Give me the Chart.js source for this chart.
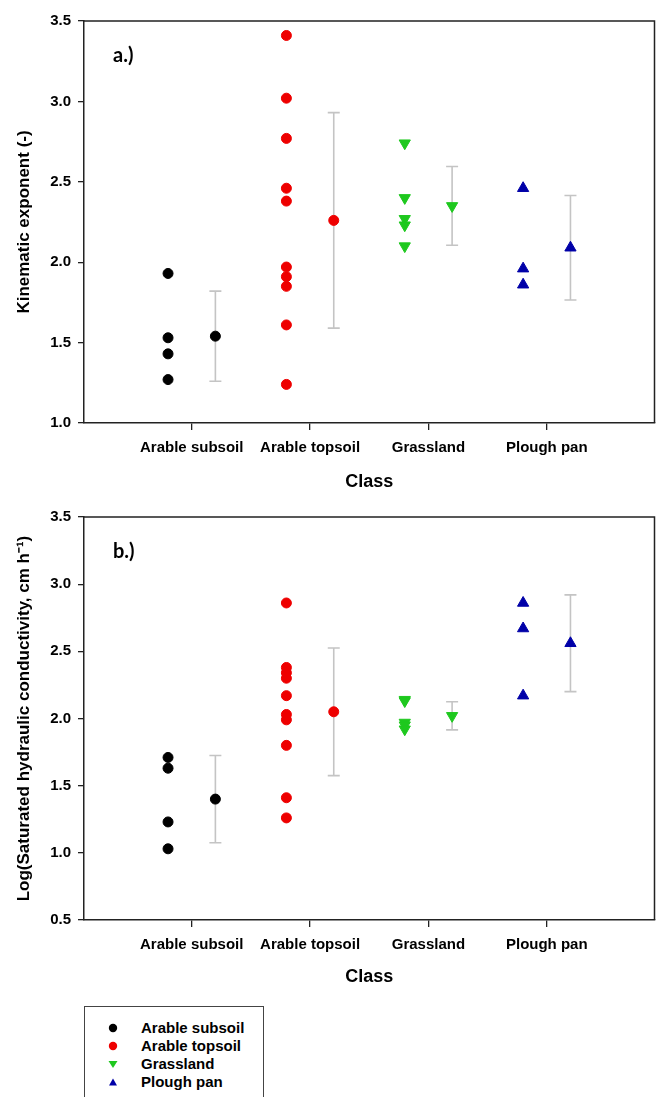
<!DOCTYPE html>
<html>
<head>
<meta charset="utf-8">
<script src="https://cdn.jsdelivr.net/npm/chart.js@4/dist/chart.umd.min.js"></script>
<style>
  html, body { margin: 0; padding: 0; background: #fff; overflow: hidden; }
  body { width: 662px; height: 1097px; position: relative; font-family: "Liberation Sans", Arial, sans-serif; }
  .panel { position: absolute; left: 0; }
  #legend { position: absolute; left: 84px; top: 1006px; width: 180px; height: 110px; border: 1px solid #444; box-sizing: border-box; }
  .row { position: absolute; left: 0; height: 18px; width: 180px; }
  .row svg { position: absolute; left: 22px; top: 3px; }
  .row span { position: absolute; left: 56px; top: 0; font: bold 15px "Liberation Sans", Arial, sans-serif; line-height: 18px; color: #000; }
</style>
</head>
<body>
<div class="panel" style="top:0"><canvas id="chartA" width="662" height="500"></canvas></div>
<div class="panel" style="top:500px"><canvas id="chartB" width="662" height="495"></canvas></div>
<div id="legend"></div>
<script>
const classes = ['Arable subsoil', 'Arable topsoil', 'Grassland', 'Plough pan'];

// a.) kinematic exponent, individual samples per class
const kinSubsoil = [1.93, 1.53, 1.43, 1.27];
const kinTopsoil = [3.41, 3.02, 2.77, 2.46, 2.38, 1.97, 1.91, 1.85, 1.61, 1.24];
const kinGrass = [2.74, 2.40, 2.27, 2.23, 2.10];
const kinPlough = [2.46, 1.96, 1.86];
const kinMean = [1.54, 2.26, 2.35, 2.09];
const kinErr = [0.28, 0.67, 0.245, 0.325];

// b.) log saturated hydraulic conductivity
const ksSubsoil = [1.71, 1.63, 1.23, 1.03];
const ksTopsoil = [2.86, 2.38, 2.34, 2.30, 2.17, 2.03, 1.99, 1.80, 1.41, 1.26];
const ksGrass = [2.14, 2.13, 1.97, 1.95, 1.92];
const ksPlough = [2.86, 2.67, 2.17];
const ksMean = [1.40, 2.05, 2.02, 2.56];
const ksErr = [0.325, 0.475, 0.105, 0.36];

const kinTicks = [1.0, 1.5, 2.0, 2.5, 3.0, 3.5];
const ksTicks = [0.5, 1.0, 1.5, 2.0, 2.5, 3.0, 3.5];

const styles = [
    { color: '#000000', pointStyle: 'circle', radius: 5, rotation: 0 },
    { color: '#ee0000', pointStyle: 'circle', radius: 5, rotation: 0 },
    { color: '#1ec81e', pointStyle: 'triangle', radius: 6.5, rotation: 180 },
    { color: '#0000a8', pointStyle: 'triangle', radius: 6.5, rotation: 0 }
];

const rawShift = -0.2;
const meanShift = 0.2;
const FONT = '"Liberation Sans", Arial, sans-serif';

const errorBars = {
    id: 'errorBars',
    beforeDatasetsDraw(chart, args, opts) {
        const { ctx, scales: { x, y } } = chart;
        ctx.save();
        ctx.strokeStyle = '#c4c4c4';
        ctx.lineWidth = 1.6;
        opts.means.forEach((m, i) => {
            const px = x.getPixelForValue(i + 1 + meanShift);
            const top = y.getPixelForValue(m + opts.errs[i]);
            const bot = y.getPixelForValue(m - opts.errs[i]);
            ctx.beginPath();
            ctx.moveTo(px, top); ctx.lineTo(px, bot);
            ctx.moveTo(px - 6, top); ctx.lineTo(px + 6, top);
            ctx.moveTo(px - 6, bot); ctx.lineTo(px + 6, bot);
            ctx.stroke();
        });
        ctx.restore();
    }
};

const frame = {
    id: 'frame',
    afterDraw(chart, args, opts) {
        const { ctx, chartArea: { top, bottom, left, right } } = chart;
        ctx.save();
        ctx.strokeStyle = '#222';
        ctx.lineWidth = 1.5;
        ctx.beginPath();
        ctx.moveTo(left, top); ctx.lineTo(right, top); ctx.lineTo(right, bottom);
        ctx.stroke();
        ctx.fillStyle = '#000';
        ctx.font = 'bold 20px Lato, "Open Sans", sans-serif';
        ctx.textBaseline = 'middle';
        ctx.fillText(opts.label, left + 29, top + 35);
        ctx.restore();
    }
};

function makeDatasets(groups, means) {
    return groups.map((vals, i) => {
        const pts = vals.map(v => ({ x: i + 1 + rawShift, y: v }));
        pts.push({ x: i + 1 + meanShift, y: means[i] });
        const s = styles[i];
        return {
            label: classes[i],
            data: pts,
            backgroundColor: s.color,
            borderColor: s.color,
            borderWidth: 1,
            pointStyle: s.pointStyle,
            pointRadius: s.radius,
            pointRotation: s.rotation
        };
    });
}

function makeChart(id, groups, means, errs, yTicks, yTitle, label, padTop, xHeight) {
    return new Chart(document.getElementById(id), {
        type: 'scatter',
        plugins: [errorBars, frame],
        data: { datasets: makeDatasets(groups, means) },
        options: {
            responsive: false,
            animation: false,
            layout: { padding: { top: padTop, right: 5, left: 0, bottom: 0 } },
            plugins: {
                legend: { display: false },
                tooltip: { enabled: false },
                errorBars: { means: means, errs: errs },
                frame: { label: label }
            },
            scales: {
                x: {
                    type: 'linear',
                    min: 0.09, max: 4.91,
                    afterBuildTicks: (axis) => { axis.ticks = [1, 2, 3, 4].map(v => ({ value: v })); },
                    afterFit: (axis) => { axis.height = xHeight; },
                    border: { display: true, color: '#222', width: 1.5 },
                    grid: { drawOnChartArea: false, drawTicks: true, tickLength: 7, color: '#222', lineWidth: 1.3 },
                    ticks: {
                        autoSkip: false, maxRotation: 0, padding: 9, color: '#000',
                        font: { family: FONT, size: 15, weight: 'bold' },
                        callback: (v) => classes[v - 1]
                    },
                    title: {
                        display: true, text: 'Class', color: '#000',
                        font: { family: FONT, size: 18, weight: 'bold' },
                        padding: { top: 0, bottom: 7 }
                    }
                },
                y: {
                    min: yTicks[0], max: yTicks[yTicks.length - 1],
                    afterBuildTicks: (axis) => { axis.ticks = yTicks.map(v => ({ value: v })); },
                    afterFit: (axis) => { axis.width = 84; },
                    border: { display: true, color: '#222', width: 1.5 },
                    grid: { drawOnChartArea: false, drawTicks: true, tickLength: 6, color: '#222', lineWidth: 1.3 },
                    ticks: {
                        padding: 7, color: '#000',
                        font: { family: FONT, size: 15, weight: 'bold' },
                        callback: (v) => v.toFixed(1)
                    },
                    title: {
                        display: true, text: yTitle, color: '#000',
                        font: { family: FONT, size: 17, weight: 'bold' },
                        padding: { top: 14, bottom: 0 }
                    }
                }
            }
        }
    });
}

makeChart('chartA', [kinSubsoil, kinTopsoil, kinGrass, kinPlough], kinMean, kinErr,
    kinTicks, 'Kinematic exponent (-)', 'a.)', 21, 77);
makeChart('chartB', [ksSubsoil, ksTopsoil, ksGrass, ksPlough], ksMean, ksErr,
    ksTicks, 'Log(Saturated hydraulic conductivity, cm h\u207B\u00B9)', 'b.)', 17, 75);

// legend
const legend = document.getElementById('legend');
const shapes = [
    '<circle cx="6" cy="6" r="4.2" fill="#000"/>',
    '<circle cx="6" cy="6" r="4.2" fill="#ee0000"/>',
    '<polygon points="1.5,3 10.5,3 6,10" fill="#1ec81e"/>',
    '<polygon points="2,9.5 10,9.5 6,2.5" fill="#0000a8"/>'
];
classes.forEach((c, i) => {
    const row = document.createElement('div');
    row.className = 'row';
    row.style.top = (12 + i * 18) + 'px';
    row.innerHTML = '<svg width="12" height="12">' + shapes[i] + '</svg><span>' + c + '</span>';
    legend.appendChild(row);
});
</script>
</body>
</html>
